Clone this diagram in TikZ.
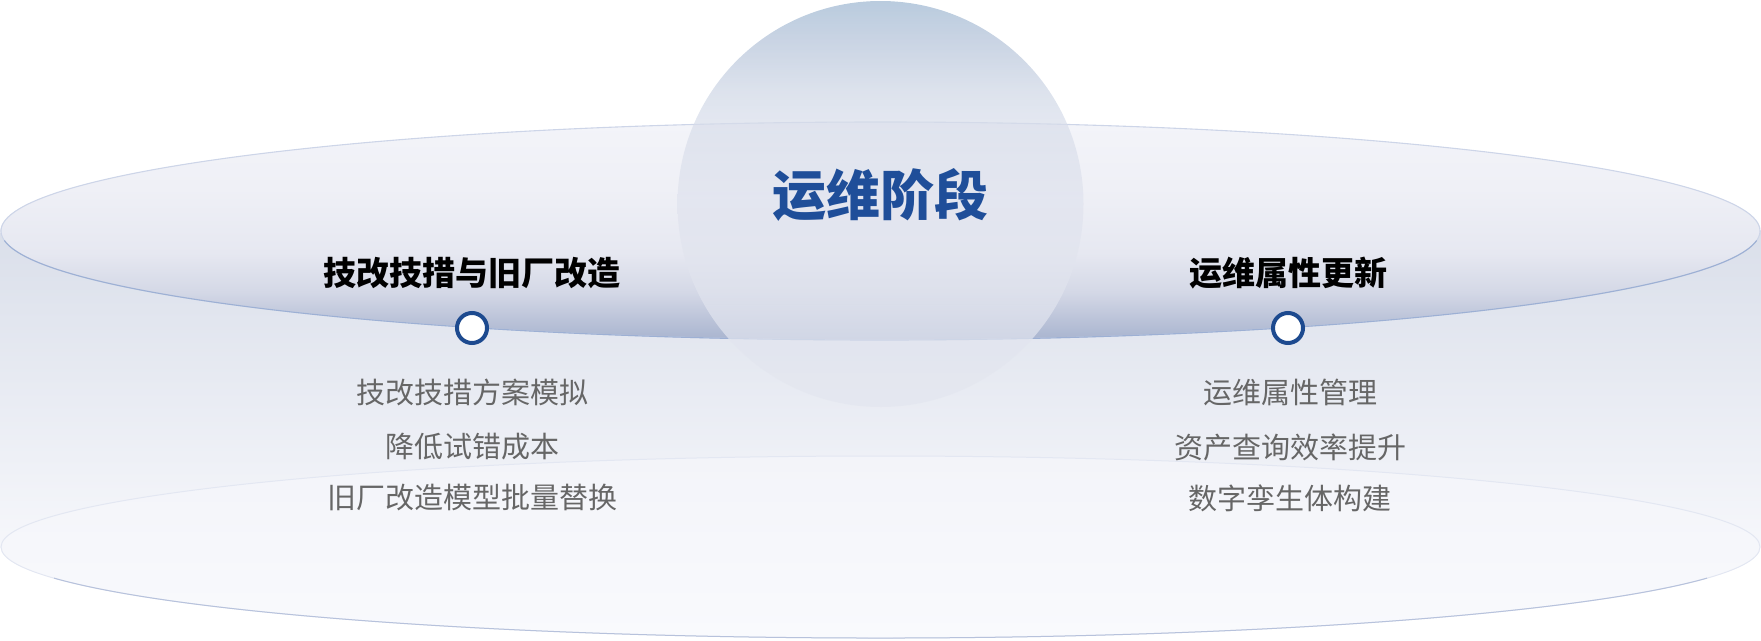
\documentclass[tikz,border=0pt]{standalone}
\usepackage{fontspec}
\setmainfont{Noto Sans CJK SC}
\definecolor{teA}{HTML}{A8B4CF}
\definecolor{teB}{HTML}{BCC4D9}
\definecolor{teC}{HTML}{D4D8E6}
\definecolor{teD}{HTML}{E6E8F1}
\definecolor{teE}{HTML}{EFF0F6}
\definecolor{teF}{HTML}{F3F4F9}
\definecolor{bodyTop}{HTML}{DADFEA}
\definecolor{bodyBot}{HTML}{F6F7FB}
\definecolor{beTop}{HTML}{F3F4F9}
\definecolor{beBot}{HTML}{F9FAFD}
\definecolor{ciA}{HTML}{9BB5D0}
\definecolor{ciB}{HTML}{B3C2D8}
\definecolor{ciC}{HTML}{CED6E5}
\definecolor{ciD}{HTML}{D7DDEA}
\definecolor{ciE}{HTML}{E0E3EE}
\definecolor{ciF}{HTML}{E3E6EF}
\definecolor{topLineLight}{HTML}{CDD5E8}
\definecolor{topLineDark}{HTML}{9DB0D4}
\definecolor{botLineLight}{HTML}{E3E7F2}
\definecolor{botLineDark}{HTML}{B7C2DC}
\definecolor{stageBlue}{HTML}{1F4E99}
\definecolor{markBlue}{HTML}{1D4A8F}
\definecolor{itemGray}{HTML}{666666}
\pgfdeclareverticalshading{topell}{100bp}{color(0bp)=(teA); color(25bp)=(teA); color(30bp)=(teB); color(36bp)=(teC); color(45bp)=(teD); color(60bp)=(teE); color(75bp)=(teF); color(100bp)=(teF)}
\pgfdeclareverticalshading{bodysh}{100bp}{color(0bp)=(bodyBot); color(25bp)=(bodyBot); color(75bp)=(bodyTop); color(100bp)=(bodyTop)}
\pgfdeclareverticalshading{botell}{100bp}{color(0bp)=(beBot); color(25bp)=(beBot); color(75bp)=(beTop); color(100bp)=(beTop)}
\pgfdeclareverticalshading{circsh}{100bp}{color(0bp)=(ciF); color(25bp)=(ciF); color(50.4bp)=(ciE); color(60.3bp)=(ciD); color(63.9bp)=(ciC); color(70.1bp)=(ciB); color(75bp)=(ciA); color(100bp)=(ciA)}
\begin{document}
\begin{tikzpicture}[x=1pt,y=-1pt,
  maintitle/.style={font=\fontsize{54}{60}\selectfont\bfseries, text=stageBlue, inner sep=0pt},
  subtitle/.style={font=\fontsize{33}{38}\selectfont\bfseries, text=black, inner sep=0pt},
  item/.style={font=\fontsize{29}{34}\selectfont, text=itemGray, inner sep=0pt},
  marker/.style={circle, draw=markBlue, line width=4pt, fill=white, minimum size=30pt, inner sep=0pt}]
\useasboundingbox (0,0) rectangle (1761,640);
% cylinder body
\path[shading=bodysh] (0.5,230) rectangle (1760.5,547);
% bottom ellipse
\path[shading=botell] (880.5,547) ellipse [x radius=880pt, y radius=91pt];
\draw[botLineLight, line width=1pt] (880.5,547) ellipse [x radius=879.5pt, y radius=91pt];
\draw[botLineDark, line width=1pt] (880.5,547) ++(200:879.5pt and 91pt) arc[start angle=200, end angle=340, x radius=879.5pt, y radius=91pt];
% top ellipse
\path[shading=topell] (880.5,231) ellipse [x radius=880pt, y radius=109pt];
\draw[topLineLight, line width=1.1pt] (880.5,231) ellipse [x radius=879.5pt, y radius=109pt];
\draw[topLineDark, line width=1.1pt] (880.5,231) ++(185:879.5pt and 109pt) arc[start angle=185, end angle=355, x radius=879.5pt, y radius=109pt];
% central circle
\path[shading=circsh, fill opacity=0.7] (880.5,204) circle[radius=203pt];
% texts
\node[maintitle] (stage) at (880.5,195) {运维阶段};
\node[subtitle] (lt) at (472,273) {技改技措与旧厂改造};
\node[subtitle] (rt) at (1288,273) {运维属性更新};
\node[marker] (lm) at (472,328) {};
\node[marker] (rm) at (1288,328) {};
\node[item] (l1) at (472,392) {技改技措方案模拟};
\node[item] (l2) at (472,447) {降低试错成本};
\node[item] (l3) at (472,498) {旧厂改造模型批量替换};
\node[item] (r1) at (1290,392) {运维属性管理};
\node[item] (r2) at (1290,447) {资产查询效率提升};
\node[item] (r3) at (1290,498) {数字孪生体构建};
\end{tikzpicture}
\end{document}
